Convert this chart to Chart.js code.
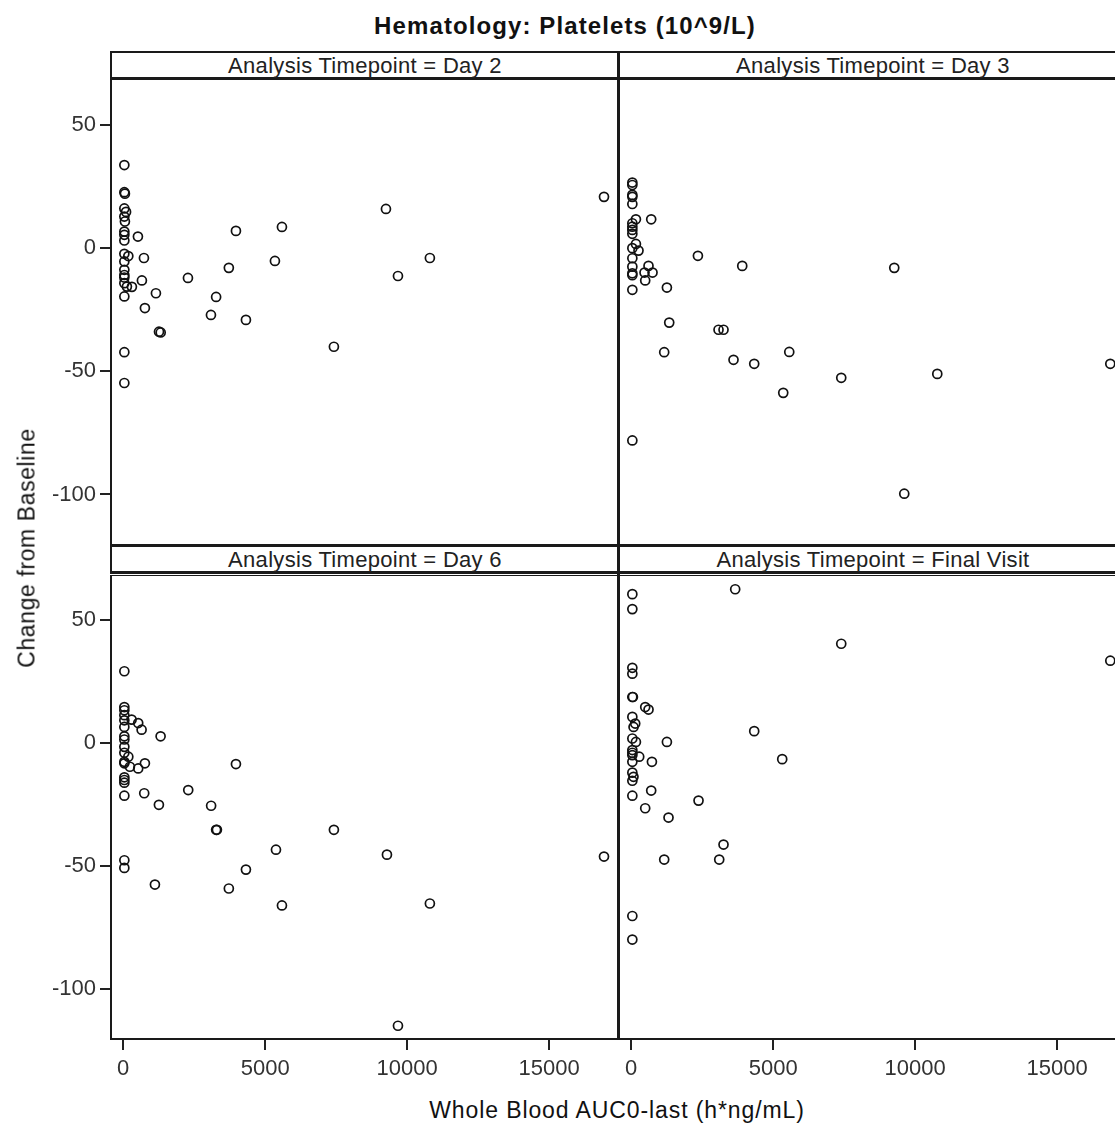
<!DOCTYPE html>
<html>
<head>
<meta charset="utf-8">
<script src="https://cdn.jsdelivr.net/npm/chart.js@4"></script>
<style>
  html, body { margin: 0; padding: 0; background: #fff; overflow: hidden; }
  #page { position: relative; width: 1115px; height: 1123px; overflow: hidden; font-family: "Liberation Sans", Arial, sans-serif; }
  .box { position: absolute; }
  .strip {
    position: absolute; height: 29px; box-sizing: border-box;
    border: 2px solid #1a1a1a; border-bottom-width: 3px; background: #fff;
    text-align: center; font-size: 22px; letter-spacing: 0.3px; line-height: 26px; color: #222;
  }
  #divider { position: absolute; left: 617px; top: 51px; width: 3px; height: 989px; background: #1a1a1a; }
  #title { position: absolute; left: 0; width: 1130px; top: 12px; text-align: center; font-weight: bold; font-size: 24px; letter-spacing: 1.1px; color: #111; }
  #ytitle { position: absolute; left: 27px; top: 548px; transform: translate(-50%, -50%) rotate(-90deg); white-space: nowrap; font-size: 23px; letter-spacing: 0.6px; color: #111; }
  #xtitle { position: absolute; left: 617px; top: 1110px; transform: translate(-50%, -50%); white-space: nowrap; font-size: 23px; letter-spacing: 0.9px; color: #111; }
</style>
</head>
<body>
<div id="page">
  <div id="title">Hematology: Platelets (10^9/L)</div>

  <div class="box" style="left:0;top:79px;width:618px;height:466px"><canvas id="day2"></canvas></div>
  <div class="box" style="left:619px;top:79px;width:507px;height:466px"><canvas id="day3"></canvas></div>
  <div class="box" style="left:0;top:575px;width:618px;height:520px"><canvas id="day6"></canvas></div>
  <div class="box" style="left:619px;top:575px;width:507px;height:520px"><canvas id="final"></canvas></div>

  <div class="strip" style="left:110px;top:51px;width:510px" id="s0"></div>
  <div class="strip" style="left:618px;top:51px;width:510px" id="s1"></div>
  <div class="strip" style="left:110px;top:545px;width:510px" id="s2"></div>
  <div class="strip" style="left:618px;top:545px;width:510px" id="s3"></div>
  <div id="divider"></div>

  <div id="ytitle">Change from Baseline</div>
  <div id="xtitle">Whole Blood AUC0-last (h*ng/mL)</div>
</div>

<script>
const panelTitles = [
  "Analysis Timepoint = Day 2",
  "Analysis Timepoint = Day 3",
  "Analysis Timepoint = Day 6",
  "Analysis Timepoint = Final Visit",
];
const xTicks = [0, 5000, 10000, 15000];
const yTicks = [-100, -50, 0, 50];

// Day 2
const day2X = [40, 40, 60, 40, 100, 40, 60, 40, 40, 40, 518, 40, 180, 40, 730, 40, 40, 40, 658, 40, 130, 306, 40, 1152, 764, 1260, 1320, 40, 40, 2280, 3970, 3720, 3272, 3090, 4322, 5590, 5343, 7420, 9253, 9676, 10800, 16932];
const day2Y = [33.6, 22.6, 22, 16, 14.6, 12.7, 10.7, 6.6, 5.3, 3, 4.6, -2.4, -3.3, -5.5, -4.1, -8.9, -11, -12, -13.2, -14.3, -15.7, -15.8, -19.7, -18.4, -24.4, -34, -34.3, -42.3, -54.8, -12.2, 6.9, -8.1, -19.9, -27.2, -29.2, 8.5, -5.3, -40.1, 15.8, -11.4, -4.1, 20.7];

// Day 3
const day3X = [40, 40, 40, 40, 40, 166, 704, 40, 40, 40, 40, 166, 40, 257, 40, 40, 609, 469, 751, 40, 40, 493, 40, 1257, 1339, 1162, 40, 2349, 3075, 3251, 3603, 3910, 4332, 5354, 5566, 7397, 9264, 9616, 10779, 16872];
const day3Y = [26.5, 25.5, 21.5, 20.7, 17.8, 11.6, 11.6, 10, 8.6, 7.3, 5.7, 1.6, -0.1, -1.1, -4.2, -7.6, -7.3, -10, -10, -10.3, -11.1, -13.2, -17, -16.1, -30.3, -42.3, -78.1, -3.2, -33.2, -33.2, -45.4, -7.3, -47, -58.8, -42.2, -52.7, -8.1, -99.7, -51.1, -47];

// Day 6
const day6X = [40, 40, 40, 40, 40, 296, 528, 648, 1317, 40, 40, 40, 40, 40, 180, 40, 40, 764, 236, 528, 40, 40, 40, 40, 740, 1257, 2290, 40, 40, 3970, 3096, 3272, 3300, 1117, 3720, 4322, 5380, 5590, 7420, 9288, 9676, 10800, 16932];
const day6Y = [29.3, 14.7, 13.4, 11.4, 9.3, 9.6, 8.2, 5.5, 2.8, 6.6, 2.8, 1.5, -1.5, -3.9, -5.5, -7.6, -8.2, -8.2, -9.6, -10.3, -13.9, -15, -16.1, -21.4, -20.4, -25.1, -19.1, -47.7, -50.8, -8.5, -25.5, -35.3, -35.3, -57.6, -59.2, -51.5, -43.4, -66.1, -35.3, -45.4, -115.1, -65.3, -46.2];

// Final Visit
const finalX = [40, 40, 3662, 40, 40, 40, 60, 493, 610, 40, 141, 82, 40, 166, 1257, 40, 40, 40, 282, 40, 729, 40, 80, 40, 704, 40, 2371, 493, 1314, 3251, 1162, 3100, 40, 40, 4332, 5318, 7397, 16872];
const finalY = [60.7, 54.6, 62.7, 30.7, 28.3, 18.8, 18.8, 14.7, 13.7, 10.7, 8, 6.6, 1.9, 0.5, 0.5, -2.8, -3.9, -4.9, -5.5, -7.6, -7.6, -12, -13.7, -15.3, -19.3, -21.4, -23.4, -26.5, -30.3, -41.3, -47.4, -47.4, -70.4, -80, 4.9, -6.5, 40.5, 33.6];

const X_MIN = -430;
const X_MAX = 17425;
const Y_MIN = -120.5;
const Y_MAX = 68.5;

panelTitles.forEach((t, i) => {
  document.getElementById("s" + i).textContent = t;
});

// box around each plot area
const framePlugin = {
  id: "frame",
  afterDraw(chart) {
    const { ctx, chartArea: a } = chart;
    ctx.save();
    ctx.strokeStyle = "#1a1a1a";
    ctx.lineWidth = 2;
    ctx.strokeRect(a.left, a.top, a.right - a.left, a.bottom - a.top);
    ctx.restore();
  },
};

const tickFont = { family: "'Liberation Sans', Arial, sans-serif", size: 22 };

function makePanel(id, xs, ys, showX, showY) {
  const points = xs.map((x, i) => ({ x: x, y: ys[i] }));
  new Chart(document.getElementById(id), {
    type: "scatter",
    data: {
      datasets: [
        {
          data: points,
          pointStyle: "circle",
          pointRadius: 4.5,
          pointHoverRadius: 4.5,
          borderWidth: 1.7,
          borderColor: "#111",
          backgroundColor: "rgba(0,0,0,0)",
        },
      ],
    },
    options: {
      responsive: true,
      maintainAspectRatio: false,
      animation: false,
      events: [],
      layout: { padding: 0, autoPadding: false },
      plugins: { legend: { display: false }, tooltip: { enabled: false } },
      scales: {
        x: {
          type: "linear",
          display: showX,
          min: X_MIN,
          max: X_MAX,
          border: { display: false },
          grid: { drawOnChartArea: false, drawTicks: true, tickLength: 11, color: "#222", lineWidth: 2 },
          ticks: { font: tickFont, color: "#333", padding: 6, maxRotation: 0, callback: (v) => String(v) },
          afterBuildTicks: (scale) => {
            scale.ticks = xTicks.map((v) => ({ value: v }));
          },
          afterFit: (scale) => {
            if (!showX) return;
            scale.height = 56;
            scale.paddingLeft = 0;
            scale.paddingRight = 0;
          },
        },
        y: {
          type: "linear",
          display: showY,
          min: Y_MIN,
          max: Y_MAX,
          border: { display: false },
          grid: { drawOnChartArea: false, drawTicks: true, tickLength: 11, color: "#222", lineWidth: 2 },
          ticks: { font: tickFont, color: "#333", padding: 4, callback: (v) => String(v) },
          afterBuildTicks: (scale) => {
            scale.ticks = yTicks.map((v) => ({ value: v }));
          },
          afterFit: (scale) => {
            if (!showY) return;
            scale.width = 111;
            scale.paddingTop = 0;
            scale.paddingBottom = 0;
          },
        },
      },
    },
    plugins: [framePlugin],
  });
}

makePanel("day2", day2X, day2Y, false, true);
makePanel("day3", day3X, day3Y, false, false);
makePanel("day6", day6X, day6Y, true, true);
makePanel("final", finalX, finalY, true, false);
</script>
</body>
</html>
